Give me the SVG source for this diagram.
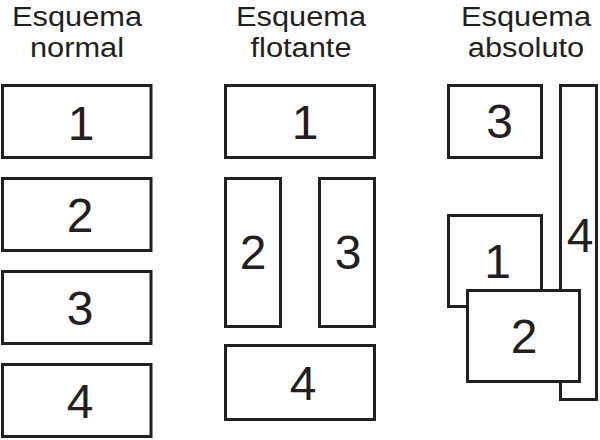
<svg xmlns="http://www.w3.org/2000/svg" width="600" height="440" viewBox="0 0 600 440">
<style>
.b{fill:#fff;stroke:#231f20;stroke-width:3}
.t{font-family:"Liberation Sans",Arial,sans-serif;font-size:28px;fill:#231f20;text-anchor:middle}
.d{font-family:"Liberation Sans",Arial,sans-serif;font-size:48px;fill:#231f20;text-anchor:middle}
</style>
<rect width="600" height="440" fill="#fff"/>
<g id="titles">
<g transform="translate(77,0) scale(1.1,1)"><text class="t" x="0" y="25.6">Esquema</text><text class="t" x="0" y="57">normal</text></g>
<g transform="translate(301,0) scale(1.1,1)"><text class="t" x="0" y="25.6">Esquema</text><text class="t" x="0" y="57">flotante</text></g>
<g transform="translate(526,0) scale(1.1,1)"><text class="t" x="0" y="25.6">Esquema</text><text class="t" x="0" y="57">absoluto</text></g>
</g>
<g id="normal-1"><rect class="b" x="2.5" y="85.5" width="148.5" height="72"/><text class="d" x="81" y="140">1</text></g>
<g id="normal-2"><rect class="b" x="2.5" y="178.5" width="148.5" height="72"/><text class="d" x="80" y="232">2</text></g>
<g id="normal-3"><rect class="b" x="2.5" y="271.5" width="148.5" height="72"/><text class="d" x="80" y="325">3</text></g>
<g id="normal-4"><rect class="b" x="2.5" y="364.5" width="148.5" height="72"/><text class="d" x="80" y="418">4</text></g>
<g id="flot-1"><rect class="b" x="225.5" y="85.5" width="149" height="72"/><text class="d" x="305" y="139">1</text></g>
<g id="flot-2"><rect class="b" x="225.5" y="178.5" width="55" height="148"/><text class="d" x="253" y="269">2</text></g>
<g id="flot-3"><rect class="b" x="319.5" y="178.5" width="55" height="148"/><text class="d" x="348" y="269">3</text></g>
<g id="flot-4"><rect class="b" x="225.5" y="345.5" width="149" height="74"/><text class="d" x="303" y="400">4</text></g>
<g id="abs-3"><rect class="b" x="448.5" y="85.5" width="93" height="72"/><text class="d" x="499.5" y="138">3</text></g>
<g id="abs-4"><rect class="b" x="560.5" y="85.5" width="36" height="314"/><text class="d" x="580" y="252">4</text></g>
<g id="abs-1"><rect class="b" x="448.5" y="215.5" width="93" height="91"/><text class="d" x="497.5" y="278">1</text></g>
<g id="abs-2"><rect class="b" x="467.5" y="290.5" width="112" height="91"/><text class="d" x="524" y="353">2</text></g>
<g id="connectors"/>
</svg>
